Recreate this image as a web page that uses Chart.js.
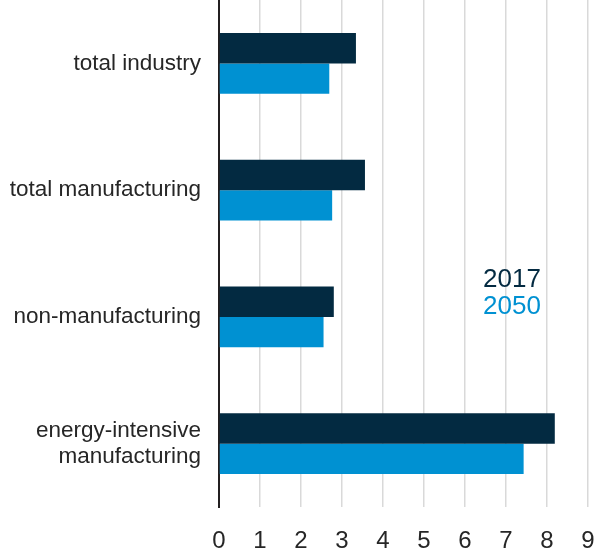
<!DOCTYPE html>
<html lang="en">
  <head>
    <meta charset="UTF-8" />
    <title>Industry chart</title>
    <style>
      html,
      body {
        margin: 0;
        padding: 0;
        overflow: hidden;
        background-color: #fff;
      }
      canvas {
        display: block;
      }
    </style>
  </head>
  <body>
    <canvas id="bar-chart" width="595" height="550"></canvas>

    <script src="https://cdn.jsdelivr.net/npm/chart.js@4.4.1/dist/chart.umd.min.js"></script>
    <script>
      const categories = [
        "total industry",
        "total manufacturing",
        "non-manufacturing",
        ["energy-intensive", "manufacturing"],
      ];
      const seriesNames = ["2017", "2050"];
      const values2017 = [3.34, 3.56, 2.8, 8.19];
      const values2050 = [2.69, 2.76, 2.55, 7.43];
      const xTicks = [0, 1, 2, 3, 4, 5, 6, 7, 8, 9];

      const darkBlue = "#032a41";
      const lightBlue = "#0091d2";

      // legend drawn as coloured text inside the plot area
      const textLegend = {
        id: "textLegend",
        afterDraw(chart) {
          const ctx = chart.ctx;
          const area = chart.chartArea;
          ctx.save();
          ctx.font = "26px 'Liberation Sans', Arial, sans-serif";
          ctx.textAlign = "left";
          ctx.textBaseline = "alphabetic";
          chart.data.datasets.forEach((ds, i) => {
            ctx.fillStyle = ds.backgroundColor;
            ctx.fillText(ds.label, area.left + 264, 287 + i * 27);
          });
          ctx.restore();
        },
      };

      document.addEventListener("DOMContentLoaded", () => {
        const ctx = document.getElementById("bar-chart").getContext("2d");

        new Chart(ctx, {
          type: "bar",
          data: {
            labels: categories,
            datasets: [
              {
                label: seriesNames[0],
                data: values2017,
                backgroundColor: darkBlue,
                categoryPercentage: 0.48,
                barPercentage: 1.0,
              },
              {
                label: seriesNames[1],
                data: values2050,
                backgroundColor: lightBlue,
                categoryPercentage: 0.48,
                barPercentage: 1.0,
              },
            ],
          },
          options: {
            indexAxis: "y",
            responsive: false,
            animation: false,
            layout: { padding: 0 },
            plugins: {
              legend: { display: false },
              tooltip: { enabled: false },
            },
            scales: {
              x: {
                min: 0,
                max: 9,
                afterBuildTicks: (axis) => {
                  axis.ticks = xTicks.map((v) => ({ value: v }));
                },
                afterFit: (axis) => {
                  axis.height = 43;
                  axis.paddingLeft = 0;
                  axis.paddingRight = 7;
                },
                grid: {
                  color: "#d9d9d9",
                  lineWidth: 1.5,
                  drawTicks: false,
                },
                border: { display: false },
                ticks: {
                  color: "#262626",
                  padding: 22,
                  maxRotation: 0,
                  font: {
                    family: "'Liberation Sans', Arial, sans-serif",
                    size: 24,
                    lineHeight: 1.0,
                  },
                },
              },
              y: {
                afterFit: (axis) => {
                  axis.width = 219;
                  axis.paddingTop = 0;
                  axis.paddingBottom = 0;
                },
                grid: { display: false, drawTicks: false },
                border: { display: true, color: "#231f20", width: 2 },
                ticks: {
                  color: "#262626",
                  padding: 18,
                  font: {
                    family: "'Liberation Sans', Arial, sans-serif",
                    size: 22.5,
                    lineHeight: 1.18,
                  },
                },
              },
            },
          },
          plugins: [textLegend],
        });
      });
    </script>
  </body>
</html>
